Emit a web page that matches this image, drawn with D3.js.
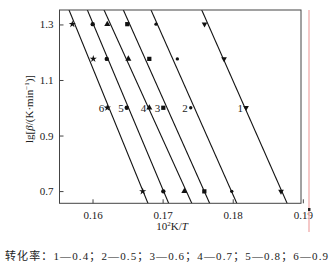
<!DOCTYPE html>
<html><head><meta charset="utf-8">
<script src="https://cdn.jsdelivr.net/npm/d3@7"></script>
<style>body{margin:0;background:#fff}svg{display:block}</style>
</head><body><svg id="c" width="330" height="265"></svg>
<script>
// ---- data ----
const seriesIds = ["1","2","3","4","5","6"];
const conversions = ["0.4","0.5","0.6","0.7","0.8","0.9"];
const lgBeta = [1.301, 1.176, 1.0, 0.699];
const invT_s1 = [0.17598, 0.17876, 0.18190, 0.18689];
const invT_s2 = [0.16906, 0.17210, 0.17401, 0.17986];
const invT_s3 = [0.16496, 0.16810, 0.17010, 0.17595];
const invT_s4 = [0.16211, 0.16511, 0.16810, 0.17310];
const invT_s5 = [0.16003, 0.16203, 0.16488, 0.17010];
const invT_s6 = [0.15712, 0.16011, 0.16211, 0.16716];
// fitted lines: 1/T value at lgβ = 1.3 and at lgβ = 0.7
const fitAt13 = [0.17649, 0.16926, 0.16532, 0.16258, 0.16013, 0.15749];
const fitAt07 = [0.18699, 0.17981, 0.17593, 0.17337, 0.17013, 0.16720];
const xTicks = [0.16, 0.17, 0.18, 0.19];
const yTicks = [0.7, 0.9, 1.1, 1.3];
const xDomain = [0.15529, 0.18974];
const yDomain = [0.656, 1.352];

const allSeries = [invT_s1, invT_s2, invT_s3, invT_s4, invT_s5, invT_s6];

// ---- layout ----
const svg = d3.select("#c");
const L = 59.5, R = 301, T = 10, B = 203.3;
const x = d3.scaleLinear().domain(xDomain).range([L, R]);
const y = d3.scaleLinear().domain(yDomain).range([B, T]);
const serif = "'Liberation Serif','Times New Roman',serif";
const ink = "#222";

svg.append("clipPath").attr("id","clip").append("rect")
  .attr("x", L).attr("y", T).attr("width", R-L).attr("height", B-T);

// fitted lines
const g = svg.append("g").attr("clip-path","url(#clip)");
seriesIds.forEach((id, i) => {
  const slope = (fitAt13[i]-fitAt07[i])/(1.3-0.7);
  const xAt = v => fitAt07[i] + slope*(v-0.7);
  g.append("line")
    .attr("x1", x(xAt(yDomain[1]+0.02))).attr("y1", y(yDomain[1]+0.02))
    .attr("x2", x(xAt(yDomain[0]-0.02))).attr("y2", y(yDomain[0]-0.02))
    .attr("stroke", "#111").attr("stroke-width", 1.1);
});

// markers
const symbols = [
  {t: d3.symbolTriangle, s: 14, r: 180},
  {t: d3.symbolCircle, s: 9, r: 0},
  {t: d3.symbolSquare, s: 18, r: 0},
  {t: d3.symbolTriangle, s: 16, r: 0},
  {t: d3.symbolCircle, s: 15, r: 0},
  {t: d3.symbolStar, s: 16, r: 0}
];
allSeries.forEach((vals, i) => {
  const sym = d3.symbol().type(symbols[i].t).size(symbols[i].s);
  svg.append("g").selectAll("path").data(vals).join("path")
    .attr("d", sym)
    .attr("transform", (d, j) => `translate(${x(d)},${y(lgBeta[j])}) rotate(${symbols[i].r})`)
    .attr("fill", "#111");
  // series number label next to the lgβ=1.0 point
  svg.append("text")
    .attr("x", x(vals[2]) - 3).attr("y", y(lgBeta[2]) + 4)
    .attr("text-anchor", "end")
    .attr("font-family", serif).attr("font-size", 11).attr("fill", ink)
    .text(seriesIds[i]);
});

// frame
svg.append("rect").attr("x", L).attr("y", T).attr("width", R-L).attr("height", B-T)
  .attr("fill", "none").attr("stroke", "#444").attr("stroke-width", 1);

// axes (ticks inward)
const xa = svg.append("g").attr("transform", `translate(0,${B})`)
  .call(d3.axisBottom(x).tickValues(xTicks).tickFormat(d3.format(".2f")).tickSizeInner(-4).tickSizeOuter(0).tickPadding(8));
const ya = svg.append("g").attr("transform", `translate(${L},0)`)
  .call(d3.axisLeft(y).tickValues(yTicks).tickFormat(d3.format(".1f")).tickSizeInner(-4).tickSizeOuter(0).tickPadding(6));
[xa, ya].forEach(a => {
  a.select(".domain").remove();
  a.selectAll(".tick line").attr("stroke", "#444");
  a.selectAll("text").attr("font-family", serif).attr("font-size", 11).attr("fill", ink);
});

// axis titles
const xt = svg.append("text").attr("x", 172).attr("y", 230).attr("text-anchor", "middle")
  .attr("font-family", serif).attr("font-size", 11).attr("fill", ink);
xt.append("tspan").text("10");
xt.append("tspan").attr("font-size", 7).attr("dy", -4).text("2");
xt.append("tspan").attr("dy", 4).text("K/");
xt.append("tspan").attr("font-style", "italic").text("T");

const yt = svg.append("text").attr("transform", "translate(33,109) rotate(-90)")
  .attr("text-anchor", "middle").attr("font-family", serif).attr("font-size", 11).attr("fill", ink);
yt.append("tspan").text("lg[");
yt.append("tspan").attr("font-style", "italic").text("β");
yt.append("tspan").text("/(K·min");
yt.append("tspan").attr("font-size", 7).attr("dy", -4).text("−1");
yt.append("tspan").attr("dy", 4).text(")]");

// caption
const cap = "转化率：" + seriesIds.map((s, i) => s + "—" + conversions[i]).join("；");
svg.append("text").attr("x", 5).attr("y", 260)
  .attr("font-family", "'Liberation Serif','Noto Sans CJK SC',serif").attr("font-size", 11)
  .attr("fill", ink).attr("textLength", 323).attr("lengthAdjust", "spacing")
  .text(cap);

// page artefacts: pink margin rule
svg.append("line").attr("x1", 309).attr("x2", 309).attr("y1", 10).attr("y2", 232)
  .attr("stroke", "#f2b6b6").attr("stroke-width", 1.5);
svg.append("rect").attr("x", 308).attr("y", 208).attr("width", 2.5).attr("height", 3).attr("fill", "#222");
</script></body></html>
